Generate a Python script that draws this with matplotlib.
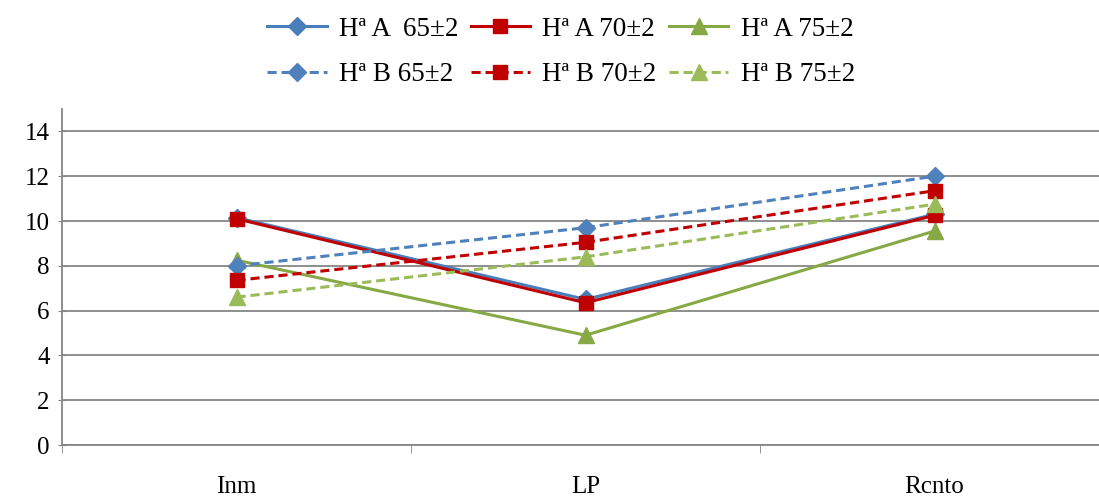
import numpy as np
import matplotlib
matplotlib.use("Agg")
import matplotlib.pyplot as plt

plt.rcParams['font.family'] = ['Liberation Serif', 'DejaVu Serif']

categories = ["Inm", "LP", "Rcnto"]

a_65 = [10.15, 6.5, 10.3]
a_70 = [10.1, 6.35, 10.25]
a_75 = [8.25, 4.9, 9.55]
b_65 = [8.0, 9.7, 12.0]
b_70 = [7.35, 9.05, 11.35]
b_75 = [6.6, 8.4, 10.75]

labels = ["Hª A  65±2", "Hª A 70±2", "Hª A 75±2",
          "Hª B 65±2", "Hª B 70±2", "Hª B 75±2"]

fig = plt.figure(figsize=(10.99, 4.96), dpi=100)
ax = fig.add_axes([62/1099, 51/496, 1047/1099, 336/496])

x = np.arange(len(categories))
dash = (0, (3, 1.6))

l1, = ax.plot(x, a_65, color='#4A7EBB', lw=2.2, marker='D', ms=9, label=labels[0])
l2, = ax.plot(x, a_70, color='#C00000', lw=2.2, marker='s', ms=10.5, label=labels[1])
l3, = ax.plot(x, a_75, color='#86A845', lw=2.2, marker='^', ms=11, label=labels[2])
l4, = ax.plot(x, b_65, color='#4F81BD', lw=2.2, ls=dash, marker='D', ms=9, label=labels[3])
l5, = ax.plot(x, b_70, color='#C00000', lw=2.2, ls=dash, marker='s', ms=10.5, label=labels[4])
l6, = ax.plot(x, b_75, color='#9BBB59', lw=2.2, ls=dash, marker='^', ms=11, label=labels[5])

ax.set_xlim(-0.5, 2.5)
ax.set_ylim(0, 15)
ax.set_yticks(np.arange(0, 15, 2))
ax.set_xticks(x)
ax.set_xticklabels(categories)
ax.set_xticks([-0.5, 0.5, 1.5, 2.5], minor=True)
ax.tick_params(axis='x', which='major', length=0, pad=22, labelsize=18)
ax.tick_params(axis='x', which='minor', length=6, color='#868686', direction='out')
ax.tick_params(axis='y', length=6, color='#868686', direction='inout', labelsize=18, pad=6)
ax.grid(axis='y', color='#868686', lw=1.3)
ax.set_axisbelow(True)
for s in ['top', 'right']:
    ax.spines[s].set_visible(False)
for s in ['left', 'bottom']:
    ax.spines[s].set_color('#868686')
    ax.spines[s].set_linewidth(1.3)

handles = [l1, l4, l2, l5, l3, l6]
fig.legend(handles=handles, labels=[h.get_label() for h in handles], ncol=3,
           loc='center', bbox_to_anchor=(561/1099, 1 - 52/496), frameon=False,
           fontsize=19.5, handlelength=2.2, handletextpad=0.45, columnspacing=0.45,
           labelspacing=0.75)

fig.savefig("out.png", dpi=100)
